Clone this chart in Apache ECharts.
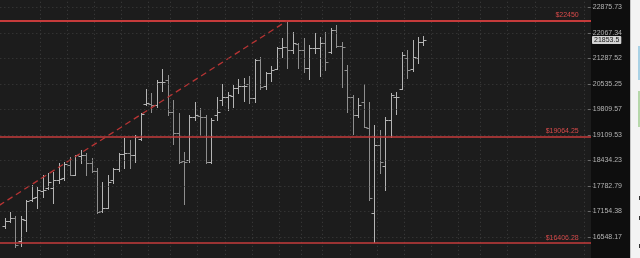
<!DOCTYPE html>
<html><head><meta charset="utf-8">
<script src="https://cdn.jsdelivr.net/npm/echarts@6/dist/echarts.min.js"></script>
<style>html,body{margin:0;padding:0;background:#1c1c1c;}#c{width:640px;height:258px;}</style>
</head><body><div id="c"></div>
<script>
const tickLabels = ['16548.17','17154.38','17782.79','18434.23','19109.53','19809.57','20535.25','21287.52','22067.34','22875.73'];
const opens = [16809,16928,16999,16453,16952,17437,17511,17659,17733,17733,17936,17987,18319,18064,18550,18577,18370,18166,17166,17240,17936,18217,18603,18630,18577,19000,19964,19964,19935,20591,20650,19738,19162,18421,18445,19601,19628,19601,18396,19656,20077,20163,20191,20419,20475,20532,20134,21240,20475,20856,20974,21606,21636,21545,21728,21545,21004,21606,21606,21759,21484,22156,21667,20945,20163,19656,20020,19299,17118,18841,18294,19519,20163,20390,21300,20974,21300,21789];
const highs = [16999,17142,17047,17047,17437,17809,17757,18064,18115,18140,18370,18396,18524,18577,18709,18630,18498,18243,17885,18064,18243,18630,19027,18974,19106,19711,20390,20276,20650,20974,20797,20077,19711,18656,19656,20020,19850,19656,19574,20163,20532,20305,20504,20679,20709,20768,21269,21331,20886,21063,21636,21911,22409,22092,21759,21911,21698,22064,21942,22092,22219,22314,21789,21092,20220,20134,20532,20020,19382,19244,19601,20276,20305,21484,21545,21850,21942,21973];
const lows = [16762,16904,16310,16334,16691,17413,17240,17511,17708,17363,17860,17936,18064,18064,18370,18064,18140,17118,17142,17240,17860,18166,18243,18243,18396,18974,19935,19738,19878,20333,19656,18868,18370,17339,18396,19519,19106,18370,18370,19519,19935,19793,19878,20276,20049,19992,20020,20390,20390,20620,20974,21331,21004,21453,21004,20886,20679,21453,20768,20945,21453,21636,20447,19738,19135,19601,19327,17437,16429,18115,17683,19053,19683,20390,20709,20915,21151,21698];
const closes = [16928,16999,16358,16976,17413,17486,17683,17683,17885,17936,17962,18345,18064,18577,18577,18370,18166,17142,17240,17885,18217,18603,18630,18577,19053,19683,19992,19935,20591,20591,19738,19162,18396,18396,19601,19656,19601,18396,19519,19738,20163,20220,20419,20475,20475,20134,21240,20447,20856,20945,21606,21636,21545,21759,21545,21004,21606,21606,21759,21181,22156,21667,21636,20163,19656,19935,19327,17486,18841,18396,19519,20220,20163,21392,20945,21331,21789,21853.5];
const lastPrice = 21853.5;
const levels = [22450, 19064.25, 16406.28];
const levelLabels = ['$22450', '$19064.25', '$16406.28'];
const trendStartPrice = 17300, trendEndPrice = 22450;
const trendStartCat = 0, trendEndCat = 53;
const weekLineCats = [8,13,18,23,28,32,37,42,47,52,56,60,65,70,75,80,85,89,94,99,108];
const categoryCount = 110;

const base = parseFloat(tickLabels[0]);
const topV = parseFloat(tickLabels[tickLabels.length - 1]);
const lr = Math.log(topV / base) / (tickLabels.length - 1);
const tOf = p => Math.log(p / base) / lr;

const cats = [];
for (let i = 0; i < categoryCount; i++) cats.push('d' + i);
const barData = opens.map((o, i) => [i + 1, tOf(o), tOf(highs[i]), tOf(lows[i]), tOf(closes[i])]);

const chart = echarts.init(document.getElementById('c'), null, {renderer: 'canvas'});
const step = 5.44;
const gridLeft = 4.5 - step * 1.5;
const pxPerUnit = 25.52;
const y0 = 237;

chart.setOption({
  backgroundColor: '#1c1c1c',
  animation: false,
  grid: {
    left: gridLeft,
    width: step * categoryCount,
    top: y0 - pxPerUnit * 10,
    height: pxPerUnit * 11,
    outerBoundsMode: 'none',
    containLabel: false
  },
  xAxis: {
    type: 'category', data: cats, boundaryGap: true,
    axisLine: {show: false}, axisTick: {show: false}, axisLabel: {show: false},
    splitLine: {show: true, interval: (idx) => weekLineCats.indexOf(idx) >= 0,
      lineStyle: {color: '#3e3e3e', type: [1, 3], width: 1}}
  },
  yAxis: {
    type: 'value', position: 'right', min: -1, max: 10, interval: 1, z: 10,
    offset: -4,
    axisLine: {show: false},
    axisTick: {show: true, inside: true, length: 3, lineStyle: {color: '#6a6a6a'}},
    axisLabel: {margin: 2, color: '#b4b4b4', fontSize: 7, fontFamily: 'Liberation Sans',
      formatter: v => (v >= 0 && v < tickLabels.length) ? tickLabels[v] : ''},
    splitLine: {show: true, lineStyle: {color: '#3e3e3e', type: [1, 3], width: 1}}
  },
  series: [{
    type: 'custom',
    data: barData,
    encode: {x: 0, y: [1, 2, 3, 4]},
    renderItem: (params, api) => {
      const idx = api.value(0);
      const o = api.coord([idx, api.value(1)]);
      const h = api.coord([idx, api.value(2)]);
      const l = api.coord([idx, api.value(3)]);
      const c = api.coord([idx, api.value(4)]);
      const xc = Math.round(o[0]) + 0.5;
      const col = api.value(4) >= api.value(1) ? '#b4b4b4' : '#8e8e8e';
      const st = {stroke: col, lineWidth: 1};
      const ry = v => Math.round(v) + 0.5;
      return {type: 'group', children: [
        {type: 'line', shape: {x1: xc, y1: Math.round(h[1]), x2: xc, y2: Math.round(l[1]) + 1}, style: st},
        {type: 'line', shape: {x1: xc - 3, y1: ry(o[1]), x2: xc, y2: ry(o[1])}, style: st},
        {type: 'line', shape: {x1: xc, y1: ry(c[1]), x2: xc + 3, y2: ry(c[1])}, style: st}
      ]};
    },
    markLine: {
      silent: true, symbol: 'none', animation: false,
      data: [
        ...levels.map((lv, i) => ({
          yAxis: tOf(lv),
          lineStyle: {color: '#c63b3b', width: i === 0 ? 2 : 1.5, type: 'solid'},
          label: {show: true, formatter: levelLabels[i], position: 'insideEndTop',
            color: '#d84a4a', fontSize: 7, fontFamily: 'Liberation Sans', distance: 2, padding: [0, 14, 0, 0]}
        })),
        [
          {coord: [cats[trendStartCat], tOf(trendStartPrice)],
           lineStyle: {color: '#b83434', width: 1.3, type: [6, 4]}, label: {show: false}},
          {coord: [cats[trendEndCat], tOf(trendEndPrice)]}
        ]
      ]
    }
  }]
});

const yLast = chart.convertToPixel({yAxisIndex: 0}, tOf(lastPrice));
chart.setOption({
  graphic: [
    {type: 'rect', id: 'axisbg', z: 5, shape: {x: 591, y: 0, width: 40, height: 258}, style: {fill: '#0e0e0e'}},
    {type: 'rect', id: 'panel', z: 6, shape: {x: 630, y: 0, width: 10, height: 258}, style: {fill: '#f3f3f3'}},
    {type: 'rect', id: 'panelEdge', z: 7, shape: {x: 630, y: 0, width: 1, height: 258}, style: {fill: '#c4c4c4'}},
    {type: 'rect', id: 'blue', z: 7, shape: {x: 638, y: 46, width: 2, height: 34}, style: {fill: '#a9d1e5'}},
    {type: 'rect', id: 'green', z: 7, shape: {x: 638, y: 91, width: 2, height: 36}, style: {fill: '#b6d7aa'}},
    {type: 'rect', id: 'm1', z: 7, shape: {x: 639, y: 196, width: 1, height: 4}, style: {fill: '#333'}},
    {type: 'rect', id: 'm2', z: 7, shape: {x: 639, y: 216, width: 1, height: 4}, style: {fill: '#333'}},
    {type: 'rect', id: 'm3', z: 7, shape: {x: 639, y: 244, width: 1, height: 4}, style: {fill: '#333'}},
    {type: 'text', id: 'lastbox', z: 20, style: {text: String(lastPrice), x: 592, y: Math.round(yLast), fill: '#151515',
      font: '7px "Liberation Sans"', backgroundColor: '#d4d4d4', padding: [1, 2, 0, 2], verticalAlign: 'middle', borderRadius: 1}}
  ]
});
</script></body></html>
